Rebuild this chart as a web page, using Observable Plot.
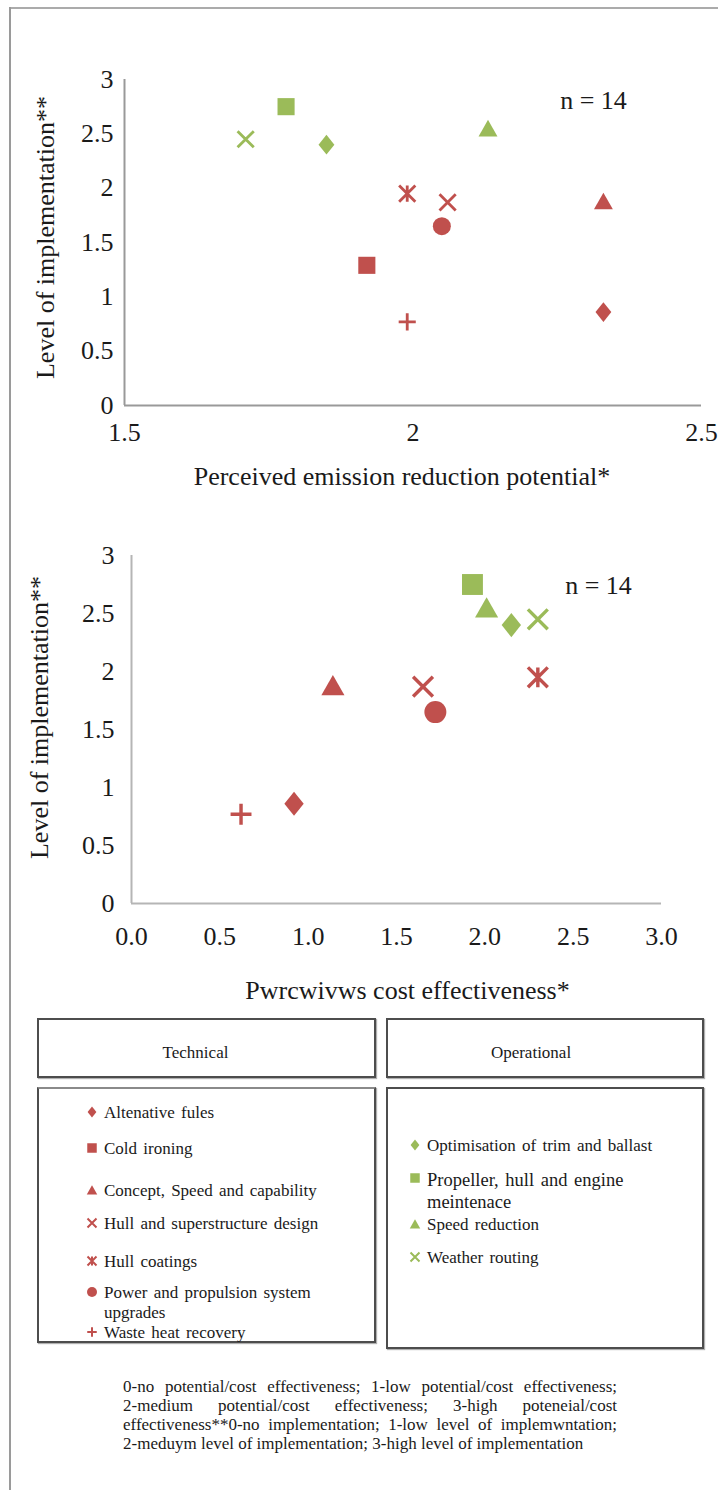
<!DOCTYPE html>
<html><head><meta charset="utf-8">
<script src="https://cdn.jsdelivr.net/npm/d3@7"></script>
<script src="https://cdn.jsdelivr.net/npm/@observablehq/plot@0.6"></script>
<style>
body{margin:0;width:718px;height:1490px;position:relative;background:#fff;overflow:hidden;
 font-family:"Liberation Serif","Times New Roman",serif;color:#1a1a1a}
.chart svg, .chart svg text{font-family:"Liberation Serif","Times New Roman",serif !important}
.frame-top{position:absolute;left:9px;top:7px;width:709px;height:0;border-top:2px solid #ababab}
.frame-left{position:absolute;left:9px;top:7px;width:0;height:1483px;border-left:2px solid #9a9a9a}
.chart{position:absolute;left:0}
.box{position:absolute;box-sizing:border-box;border:2px solid #4d4d4d;box-shadow:1px 1px 1px #b0b0b0;background:#fff}
.head{display:flex;align-items:center;justify-content:center;font-size:17px;padding-top:10px}
.item{position:absolute;display:flex;align-items:flex-start;font-size:17px;line-height:20px;word-spacing:2px}
.item svg{flex:none;margin-right:5px}
.caption{position:absolute;left:123px;top:1377px;width:494px;font-size:17px;line-height:19px}
.caption span{display:block;text-align:justify;text-align-last:justify;white-space:nowrap}
.caption span.last{text-align-last:left}
</style></head>
<body>
<div class="frame-top"></div><div class="frame-left"></div>
<div id="chart1" class="chart" style="top:0"></div>
<div id="chart2" class="chart" style="top:505px"></div>
<div id="legend"></div>
<div class="caption" id="caption"></div>
<script>
// ---------- data ----------
const groups = ["Technical", "Operational"];
const technical = ["Altenative fules","Cold ironing","Concept, Speed and capability","Hull and superstructure design","Hull coatings","Power and propulsion system upgrades","Waste heat recovery"];
const technicalSymbols = ["diamond","square","triangle","times","star","circle","plus"];
const technicalEmission = [2.33, 1.92, 2.33, 2.06, 1.99, 2.05, 1.99];
const technicalCost     = [0.92, null, 1.14, 1.65, 2.30, 1.72, 0.62];
const technicalLevel    = [0.86, 1.29, 1.88, 1.87, 1.95, 1.65, 0.77];

const operational = ["Optimisation of trim and ballast","Propeller, hull and engine meintenace","Speed reduction","Weather routing"];
const operationalSymbols = ["diamond","square","triangle","times"];
const operationalEmission = [1.85, 1.78, 2.13, 1.71];
const operationalCost     = [2.15, 1.93, 2.01, 2.30];
const operationalLevel    = [2.40, 2.75, 2.55, 2.45];

const levelTicks = [0, 0.5, 1, 1.5, 2, 2.5, 3];
const levelTickLabels = ["0","0.5","1","1.5","2","2.5","3"];
const emissionTicks = [1.5, 2, 2.5];
const emissionTickLabels = ["1.5","2","2.5"];
const costTicks = [0, 0.5, 1, 1.5, 2, 2.5, 3];
const costTickLabels = ["0.0","0.5","1.0","1.5","2.0","2.5","3.0"];
const sampleLabel = "n = 14";
const yTitle = "Level of implementation**";
const x1Title = "Perceived emission reduction potential*";
const x2Title = "Pwrcwivws cost effectiveness*";
const captionLines = [
 "0-no potential/cost effectiveness; 1-low potential/cost effectiveness;",
 "2-medium potential/cost effectiveness; 3-high poteneial/cost",
 "effectiveness**0-no implementation; 1-low level of implemwntation;",
 "2-meduym level of implementation; 3-high level of implementation"
];

// ---------- styles ----------
const red = "#C0504D", green = "#9BBB59";
const serif = '"Liberation Serif","Times New Roman",serif';

const rows = [
  ...technical.map((name, i) => ({name, group: "Technical", symbol: technicalSymbols[i], emission: technicalEmission[i], cost: technicalCost[i], level: technicalLevel[i]})),
  ...operational.map((name, i) => ({name, group: "Operational", symbol: operationalSymbols[i], emission: operationalEmission[i], cost: operationalCost[i], level: operationalLevel[i]}))
];

// custom symbols: R = sqrt(size/PI) equals Plot's r
const rad = size => Math.sqrt(size / Math.PI);
const symbolDefs = {
  diamond: {draw(c, s){ const R = rad(s); c.moveTo(0,-1.1*R); c.lineTo(0.88*R,0); c.lineTo(0,1.1*R); c.lineTo(-0.88*R,0); c.closePath(); }},
  square: {draw(c, s){ const R = rad(s)*0.95; c.rect(-R,-R,2*R,2*R); }},
  triangle: {draw(c, s){ const R = rad(s); c.moveTo(0,-0.95*R); c.lineTo(1.05*R,0.9*R); c.lineTo(-1.05*R,0.9*R); c.closePath(); }},
  circle: {draw(c, s){ const R = rad(s); c.moveTo(R,0); c.arc(0,0,R,0,2*Math.PI); }},
  times: {draw(c, s){ const R = rad(s)*0.9; c.moveTo(-R,-R); c.lineTo(R,R); c.moveTo(-R,R); c.lineTo(R,-R); }},
  star: {draw(c, s){ const R = rad(s)*0.9; c.moveTo(-R,-R); c.lineTo(R,R); c.moveTo(-R,R); c.lineTo(R,-R); c.moveTo(0,-R); c.lineTo(0,R); }},
  plus: {draw(c, s){ const R = rad(s)*0.95; c.moveTo(-R,0); c.lineTo(R,0); c.moveTo(0,-R); c.lineTo(0,R); }}
};
const strokeSymbols = new Set(["times","star","plus"]);

function markers(xKey, R) {
  const marks = [];
  for (const [name, sym] of Object.entries(symbolDefs)) {
    const data = rows.filter(d => d.symbol === name && d[xKey] != null);
    if (!data.length) continue;
    const stroked = strokeSymbols.has(name);
    marks.push(Plot.dot(data, {x: xKey, y: "level", symbol: sym, r: R,
      ...(stroked ? {stroke: "group", strokeWidth: R/3.2, fill: "none"} : {fill: "group", stroke: "none"})}));
  }
  return marks;
}

function chart(o) {
  return Plot.plot({
    width: 718, height: o.height,
    marginLeft: o.ml, marginRight: o.mr, marginTop: o.mt, marginBottom: o.mb,
    style: {fontFamily: serif, fontSize: "26px", color: "#1a1a1a", background: "transparent", overflow: "visible"},
    x: {domain: o.xDomain},
    y: {domain: [0, 3]},
    color: {domain: groups, range: [red, green]},
    marks: [
      Plot.axisY({ticks: levelTicks, tickFormat: (d, i) => levelTickLabels[i], tickSize: 0, tickPadding: o.yPad, label: null, fontSize: 26, fontFamily: serif}),
      Plot.axisX({ticks: o.xTicks, tickFormat: (d, i) => o.xLabels[i], tickSize: 0, tickPadding: o.xPad, label: null, fontSize: 26, fontFamily: serif}),
      Plot.ruleX([o.xDomain[0]], {stroke: o.axisColor, strokeWidth: 2}),
      Plot.ruleY([0], {stroke: o.axisColor, strokeWidth: 2}),
      ...markers(o.xKey, o.R),
      Plot.text([yTitle], {frameAnchor: "left", rotate: -90, dx: o.yTitleX - o.ml, dy: o.yTitleDy, fontSize: 26, fontFamily: serif,
        textAnchor: "middle", lineAnchor: "middle", fill: "#1a1a1a", letterSpacing: "1px"}),
      Plot.text([o.xTitle], {frameAnchor: "bottom", dx: o.xTitleDx, dy: o.xTitleDy, fontSize: 26, fontFamily: serif,
        textAnchor: "middle", lineAnchor: "middle", fill: "#1a1a1a"}),
      Plot.text([sampleLabel], {frameAnchor: "top-left", dx: o.nDx, dy: o.nDy, fontSize: 26, fontFamily: serif, textAnchor: "middle", lineAnchor: "middle", fill: "#1a1a1a"})
    ]
  });
}

document.getElementById("chart1").append(chart({
  height: 500, ml: 124, mr: 17, mt: 79, mb: 95,
  xDomain: [1.5, 2.5], xTicks: emissionTicks, xLabels: emissionTickLabels, xKey: "emission", xTitle: x1Title,
  yPad: 11, xPad: 17, axisColor: "#999", R: 9, nDx: 469, nDy: 21,
  yTitleX: 45, yTitleDy: -5, xTitleDx: -11, xTitleDy: 71
}));
document.getElementById("chart2").append(chart({
  height: 505, ml: 131, mr: 57, mt: 50, mb: 107,
  xDomain: [0, 3], xTicks: costTicks, xLabels: costTickLabels, xKey: "cost", xTitle: x2Title,
  yPad: 17, xPad: 23, axisColor: "#b5b5b5", R: 11, nDx: 467, nDy: 30,
  yTitleX: 39, yTitleDy: -12, xTitleDx: 11, xTitleDy: 87
}));

// ---------- legend ----------
const legend = document.getElementById("legend");
function box(l, t, w, h, cls, text) {
  const d = document.createElement("div");
  d.className = "box " + (cls || "");
  Object.assign(d.style, {left: l + "px", top: t + "px", width: w + "px", height: h + "px"});
  if (text) { d.textContent = text; }
  legend.append(d);
  return d;
}
box(37, 1018, 339, 60, "head", groups[0]).style.paddingRight = "22px";
box(386, 1018, 318, 60, "head", groups[1]).style.paddingRight = "28px";
box(37, 1087, 339, 256).style.borderTopColor = "#8a8a8a";
box(386, 1087, 318, 262);

function legendItem(name, sym, color, left, top, width, fontSize, lineHeight) {
  const d = document.createElement("div");
  d.className = "item";
  Object.assign(d.style, {left: left + "px", top: top + "px", fontSize: fontSize + "px", lineHeight: lineHeight + "px"});
  const svg = d3.create("svg").attr("width", 14).attr("height", 20);
  const stroked = strokeSymbols.has(sym);
  svg.append("path")
    .attr("transform", `translate(7,9)`)
    .attr("d", d3.symbol().type(symbolDefs[sym]).size(Math.PI * 25)())
    .attr("fill", stroked ? "none" : color)
    .attr("stroke", stroked ? color : "none")
    .attr("stroke-width", 2);
  d.append(svg.node());
  const s = document.createElement("span");
  s.textContent = name;
  s.style.width = width + "px";
  d.append(s);
  legend.append(d);
}
const techTops = [1103, 1139, 1181, 1214, 1252, 1283, 1323];
technical.forEach((n, i) => legendItem(n, technicalSymbols[i], red, 85, techTops[i], 225, 17, 20));
const opTops = [1136, 1169, 1215, 1248];
operational.forEach((n, i) => legendItem(n, operationalSymbols[i], green, 408, opTops[i], i === 1 ? 230 : 270, i === 1 ? 18.5 : 17, i === 1 ? 22 : 20));

// ---------- caption ----------
const cap = document.getElementById("caption");
captionLines.forEach((t, i) => {
  const s = document.createElement("span");
  s.textContent = t;
  if (i === captionLines.length - 1) s.className = "last";
  cap.append(s);
});
</script>
</body></html>
